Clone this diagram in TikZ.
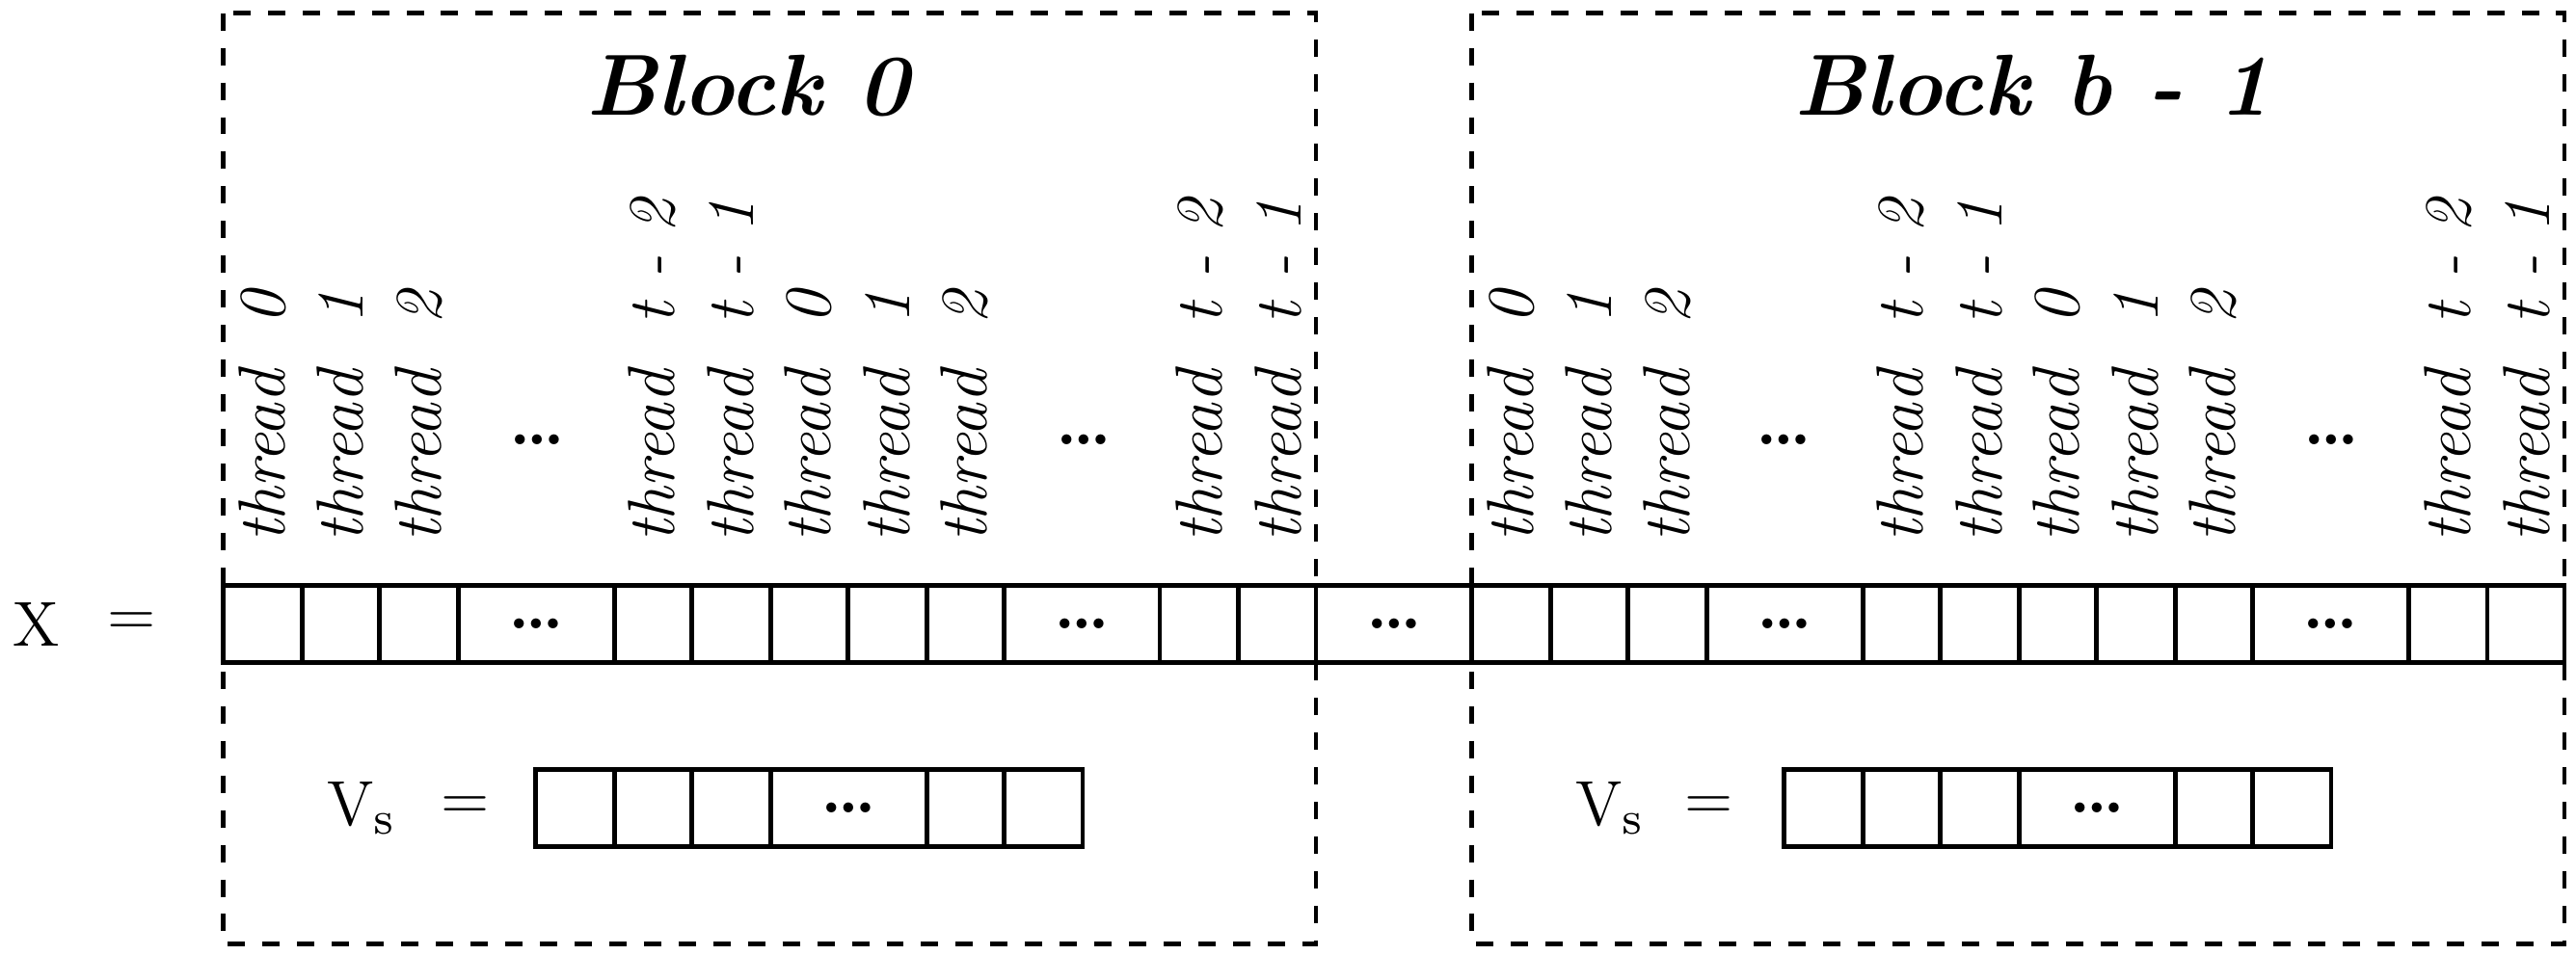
\documentclass[tikz,border=0pt]{standalone}
\begin{document}
\begin{tikzpicture}[x=0.01cm,y=0.01cm,
  blk/.style={draw,dashed,thick,inner sep=0},
  cell/.style={draw,thick,minimum height=0.47cm,inner sep=0,font=\bfseries\large},
  thr/.style={rotate=90,anchor=west,font=\itshape\fontsize{11.5}{13}\selectfont,inner sep=0},
  ttl/.style={font=\bfseries\itshape\fontsize{15}{18}\selectfont},
  lbl/.style={font=\fontsize{11}{13}\selectfont}]
\useasboundingbox (0,0) rectangle (1568,-581);
\draw[blk] (136,-8) rectangle (801,-575);
\draw[blk] (896,-8) rectangle (1561,-575);
\node[ttl] (t0) at (455,-52) {Block 0};
\node[ttl] (t1) at (1237,-52) {Block b - 1};
\node[lbl] (xl) at (22,-380) {X};
\node[lbl] (xe) at (80,-380) {=};
% X row cells
\foreach \a/\b/\t [count=\i] in {136/184/,184/231/,231/279/,279/374/\dots,374/421/,421/469/,469/516/,516/564/,564/611/,611/706/\dots,706/754/,754/801/,801/896/\dots,896/944/,944/991/,991/1039/,1039/1134/\dots,1134/1181/,1181/1229/,1229/1276/,1276/1324/,1324/1371/,1371/1466/\dots,1466/1514/,1514/1561/}
  \node[cell,minimum width={(\b-\a)*0.01cm}] (x\i) at ({(\a+\b)/2},-380) {\t};
% thread labels
\foreach \c/\t in {160/0,207/1,255/2,397/t - 2,445/t - 1,492/0,540/1,587/2,730/t - 2,778/t - 1,
                   920/0,967/1,1015/2,1157/t - 2,1205/t - 1,1252/0,1300/1,1347/2,1490/t - 2,1538/t - 1}
  \node[thr] (th\c) at (\c,-331) {thread\ \ \t};
\foreach \c in {327,660,1086,1419}
  \node[font=\bfseries\large] (d\c) at (\c,-268) {\dots};
% Vs rows
\foreach \o/\lx/\ex [count=\k] in {0/220/283,760/980/1040}{
  \node[lbl] (vs\k) at (\lx,-492) {V$_\mathrm{s}$};
  \node[lbl] (ve\k) at (\ex,-492) {=};
  \foreach \a/\b/\t [count=\i] in {326/374/,374/421/,421/469/,469/564/\dots,564/611/,611/659/}
    \node[cell,minimum width={(\b-\a)*0.01cm}] (v\k\i) at ({(\a+\b)/2+\o},-492) {\t};
}
\end{tikzpicture}
\end{document}
